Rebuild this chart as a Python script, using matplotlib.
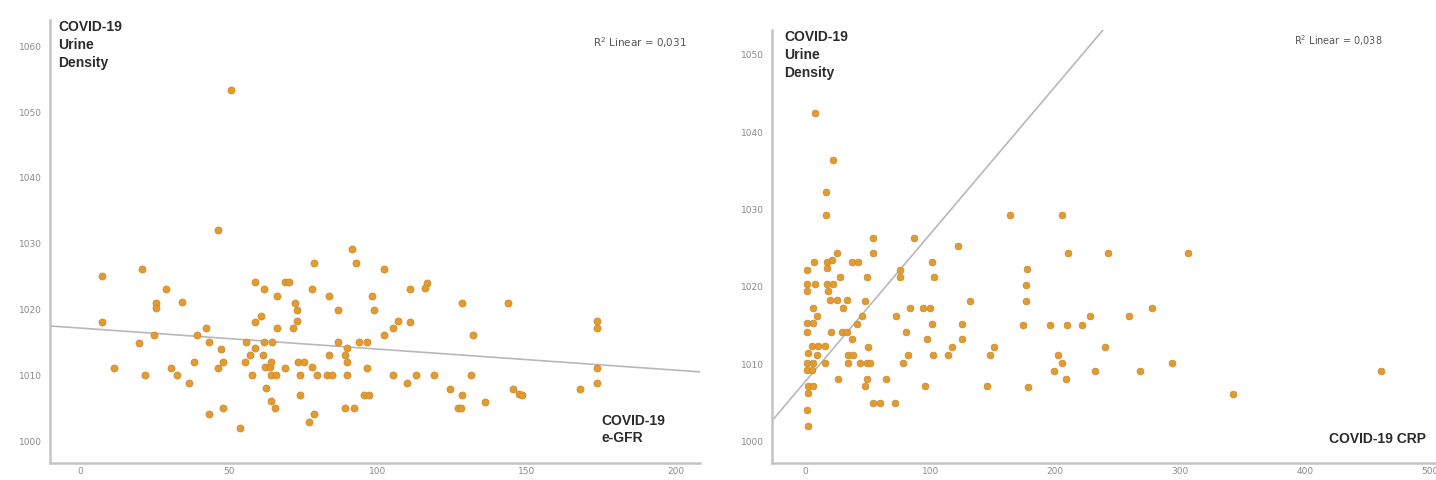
import matplotlib
matplotlib.use("Agg")
import matplotlib.pyplot as plt

# ---------------- data: left panel (e-GFR vs urine density) ----------------
egfr = [46.3, 7.4, 21.0, 28.8, 25.7, 25.7, 34.3, 7.4, 24.9, 19.9, 11.4, 21.9,
        30.6, 32.7, 36.5, 38.3, 42.3, 39.3, 43.4, 47.2, 48.0, 46.3, 43.2, 47.9,
        53.7, 58.7, 61.7, 60.6, 58.7, 66.2, 68.7, 70.3, 72.2, 72.9, 72.9, 71.4,
        66.2, 55.7, 61.7, 64.6, 58.7, 57.0, 55.4, 61.5, 62.0, 63.7, 64.2, 64.2,
        65.9, 68.7, 57.8, 62.6, 64.2, 65.3, 74.0, 74.0, 73.1, 75.3, 78.0, 79.7,
        83.0, 84.7, 83.6, 78.6, 78.0, 83.6, 86.7, 91.4, 92.7, 98.0, 98.5, 86.7,
        89.7, 89.1, 89.7, 93.6, 96.3, 89.7, 96.3, 95.2, 96.9, 89.1, 91.9, 78.6,
        77.0, 102.1, 110.7, 116.3, 115.7, 128.2, 143.7, 106.8, 105.0, 102.1,
        110.7, 132.0, 105.0, 109.8, 112.7, 118.7, 131.2, 124.3, 128.2, 126.7,
        127.9, 135.8, 145.4, 147.3, 148.4, 167.8, 173.6, 173.6, 173.6, 173.6,
        50.8]
dens_l = [1032.1, 1025.1, 1026.1, 1023.1, 1021.0, 1020.2, 1021.2, 1018.1,
          1016.1, 1015.0, 1011.2, 1010.0, 1011.2, 1010.0, 1008.9, 1012.0,
          1017.2, 1016.1, 1015.1, 1014.0, 1012.1, 1011.2, 1004.1, 1005.0,
          1002.0, 1024.2, 1023.1, 1019.0, 1018.1, 1022.1, 1024.2, 1024.2,
          1021.0, 1020.0, 1018.2, 1017.2, 1017.2, 1015.1, 1015.1, 1015.1,
          1014.1, 1013.1, 1012.1, 1013.1, 1011.3, 1011.3, 1012.1, 1010.0,
          1010.0, 1011.2, 1010.0, 1008.1, 1006.1, 1005.0, 1007.0, 1010.0,
          1012.1, 1012.1, 1011.3, 1010.0, 1010.0, 1010.0, 1013.1, 1027.1,
          1023.1, 1022.1, 1020.0, 1029.2, 1027.1, 1022.1, 1020.0, 1015.1,
          1014.1, 1013.1, 1012.1, 1015.1, 1015.1, 1010.0, 1011.2, 1007.1,
          1007.1, 1005.0, 1005.0, 1004.1, 1003.0, 1026.1, 1023.1, 1024.1,
          1023.3, 1021.0, 1021.0, 1018.2, 1017.2, 1016.1, 1018.1, 1016.1,
          1010.0, 1008.9, 1010.0, 1010.0, 1010.0, 1008.0, 1007.0, 1005.0,
          1005.0, 1006.0, 1008.0, 1007.2, 1007.0, 1008.0, 1018.2, 1017.2,
          1011.2, 1008.9, 1053.4]
fit_l = (1017.2, -0.032)  # intercept, slope of the drawn fit line
r2_l = "0,031"

# ---------------- data: right panel (CRP vs urine density) ----------------
crp = [7.5, 22.2, 16.3, 16.3, 54.2, 87.1, 122.3, 54.2, 24.8, 7.0, 16.8, 16.8,
       20.8, 36.9, 42.2, 0.8, 75.6, 75.6, 101.0, 103.1, 48.9, 27.5, 0.8, 0.8,
       7.5, 16.8, 22.2, 17.6, 19.5, 24.8, 32.9, 30.2, 47.5, 5.6, 131.7, 83.6,
       94.3, 99.6, 8.8, 0.8, 6.2, 0.8, 44.9, 72.4, 101.0, 125.0, 20.3, 28.8,
       32.9, 36.9, 40.9, 80.4, 97.0, 125.6, 4.8, 10.2, 15.5, 2.1, 8.8, 49.7,
       117.0, 114.3, 151.2, 147.7, 34.2, 38.2, 82.3, 102.3, 0.8, 6.2, 15.5,
       34.2, 43.5, 48.9, 51.5, 78.3, 0.8, 4.8, 26.2, 48.9, 47.5, 64.1, 2.1,
       6.2, 2.1, 95.6, 145.0, 54.2, 59.5, 71.6, 0.8, 2.1,
       164.0, 205.7, 210.2, 242.2, 306.3, 177.3, 176.3, 176.3, 174.1, 195.5,
       209.7, 221.7, 227.6, 259.1, 277.5, 239.6, 202.2, 205.7, 198.7, 232.1,
       268.2, 293.8, 208.9, 178.4, 342.4, 461.3]
dens_r = [1042.5, 1036.4, 1032.3, 1029.3, 1026.3, 1026.3, 1025.3, 1024.3,
          1024.3, 1023.2, 1023.2, 1022.4, 1023.5, 1023.2, 1023.2, 1022.2,
          1022.2, 1021.3, 1023.2, 1021.2, 1021.2, 1021.3, 1020.3, 1019.4,
          1020.3, 1020.3, 1020.3, 1019.4, 1018.3, 1018.3, 1018.3, 1017.3,
          1018.2, 1017.3, 1018.2, 1017.3, 1017.3, 1017.3, 1016.2, 1015.3,
          1015.3, 1014.2, 1016.2, 1016.2, 1015.2, 1015.2, 1014.2, 1014.2,
          1014.2, 1013.2, 1015.2, 1014.2, 1013.2, 1013.2, 1012.3, 1012.3,
          1012.3, 1011.4, 1011.2, 1012.2, 1012.2, 1011.2, 1012.2, 1011.2,
          1011.2, 1011.2, 1011.2, 1011.2, 1010.1, 1010.1, 1010.1, 1010.1,
          1010.1, 1010.1, 1010.1, 1010.1, 1009.2, 1009.2, 1008.1, 1008.1,
          1007.1, 1008.1, 1007.1, 1007.1, 1006.3, 1007.1, 1007.1, 1005.0,
          1005.0, 1005.0, 1004.1, 1002.0,
          1029.3, 1029.3, 1024.3, 1024.3, 1024.3, 1022.3, 1020.2, 1018.2,
          1015.1, 1015.1, 1015.1, 1015.1, 1016.2, 1016.2, 1017.2, 1012.2,
          1011.2, 1010.1, 1009.1, 1009.1, 1009.1, 1010.1, 1008.1, 1007.0,
          1006.1, 1009.1]
fit_r = (1007.8, 0.1906)
r2_r = "0,038"

xticks_l = [0, 50, 100, 150, 200]
yticks_l = [1000, 1010, 1020, 1030, 1040, 1050, 1060]
xticks_r = [0, 100, 200, 300, 400, 500]
yticks_r = [1000, 1010, 1020, 1030, 1040, 1050]

PT = "#E39A2E"
LINE = "#b8b8b8"
SPINE = "#c4c4c4"
TICK = "#8a8a8a"
LABEL = "#2b2b2b"

fig = plt.figure(figsize=(14.36, 4.8), dpi=100)
axL = fig.add_axes([50 / 1436, 17 / 480, 650 / 1436, 443 / 480])
axR = fig.add_axes([772 / 1436, 17 / 480, 664 / 1436, 433 / 480])


def style(ax, xt, yt, xlim, ylim):
    ax.set_xlim(*xlim)
    ax.set_ylim(*ylim)
    ax.set_xticks(xt)
    ax.set_yticks(yt)
    ax.set_xticklabels([str(v) for v in xt])
    ax.set_yticklabels([str(v) for v in yt])
    for s in ("top", "right"):
        ax.spines[s].set_visible(False)
    for s in ("left", "bottom"):
        ax.spines[s].set_color(SPINE)
        ax.spines[s].set_linewidth(1.8)
    ax.tick_params(axis="both", length=0, labelsize=6.5, labelcolor=TICK)
    ax.tick_params(axis="x", pad=3)
    ax.tick_params(axis="y", pad=6)


# left panel
style(axL, xticks_l, yticks_l, (-10, 208), (996.7, 1064))
axL.scatter(egfr, dens_l, s=26, color=PT, edgecolors="#C98A2E", linewidths=0.5, zorder=3)
xs = [-10, 208]
axL.plot(xs, [fit_l[0] + fit_l[1] * x for x in xs], color=LINE, lw=1.2, zorder=2)
axL.text(8 / 650, 1.0, "COVID-19\nUrine\nDensity", transform=axL.transAxes,
         ha="left", va="top", fontsize=10, fontweight="bold", color=LABEL,
         family="Liberation Sans", linespacing=1.35)
axL.text(0.98, 0.95, "R$^2$ Linear = " + r2_l, transform=axL.transAxes,
         ha="right", va="center", fontsize=7.5, color="#555555")
axL.text(551 / 650, 0.04, "COVID-19\ne-GFR", transform=axL.transAxes,
         ha="left", va="bottom", fontsize=10, fontweight="bold", color=LABEL,
         family="Liberation Sans", linespacing=1.3)

# right panel
style(axR, xticks_r, yticks_r, (-27, 505), (997.2, 1053.2))
axR.scatter(crp, dens_r, s=24, color=PT, edgecolors="#C98A2E", linewidths=0.5, zorder=3)
xr = [-27, 505]
axR.plot(xr, [fit_r[0] + fit_r[1] * x for x in xr], color=LINE, lw=1.2, zorder=2)
axR.text(12 / 664, 1.0, "COVID-19\nUrine\nDensity", transform=axR.transAxes,
         ha="left", va="top", fontsize=10, fontweight="bold", color=LABEL,
         family="Liberation Sans", linespacing=1.35)
axR.text(0.92, 0.975, "R$^2$ Linear = " + r2_r, transform=axR.transAxes,
         ha="right", va="center", fontsize=7, color="#555555")
axR.text(0.985, 0.04, "COVID-19 CRP", transform=axR.transAxes,
         ha="right", va="bottom", fontsize=10, fontweight="bold", color=LABEL,
         family="Liberation Sans")

fig.savefig("out.png", dpi=100, facecolor="white")
